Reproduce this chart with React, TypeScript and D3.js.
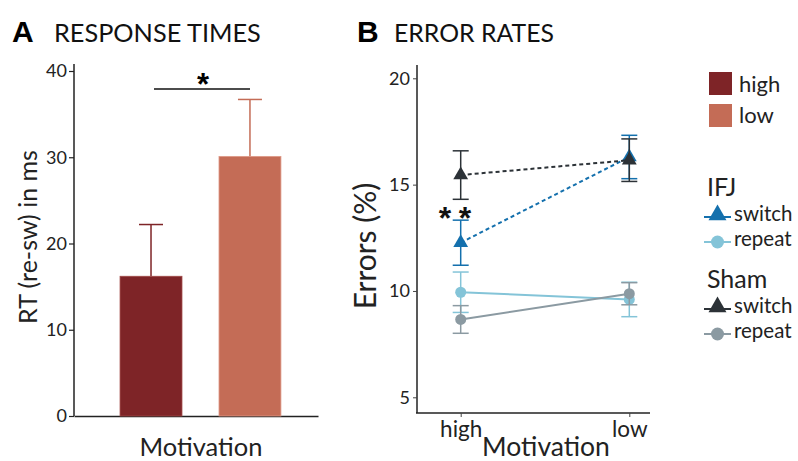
import React, { useEffect, useRef } from 'react';
import * as d3 from 'd3';

// Panel A: response times
const rtCategories = ['high', 'low'];
const rtMeans = [16.2, 30.1];
const rtErrors = [6.0, 6.6];
const rtTicks = [0, 10, 20, 30, 40];

// Panel B: error rates
const motivation = ['high', 'low'];
const ifjSwitch = [12.27, 16.3];
const ifjSwitchErr = [1.06, 1.02];
const ifjRepeat = [9.94, 9.6];
const ifjRepeatErr = [0.95, 0.81];
const shamSwitch = [15.45, 16.15];
const shamSwitchErr = [1.14, 1.0];
const shamRepeat = [8.66, 9.87];
const shamRepeatErr = [0.65, 0.52];
const errTicks = [5, 10, 15, 20];

const barColors = ['#7e2427', '#c46c56'];
const FONT = 'Lato, "Open Sans", sans-serif';

interface Series {
  group: string;
  cond: string;
  values: number[];
  errs: number[];
  color: string;
  dashed: boolean;
  shape: 'triangle' | 'circle';
}

const series: Series[] = [
  { group: 'IFJ', cond: 'repeat', values: ifjRepeat, errs: ifjRepeatErr, color: '#84c4d8', dashed: false, shape: 'circle' },
  { group: 'IFJ', cond: 'switch', values: ifjSwitch, errs: ifjSwitchErr, color: '#1470ad', dashed: true, shape: 'triangle' },
  { group: 'Sham', cond: 'repeat', values: shamRepeat, errs: shamRepeatErr, color: '#8b9aa2', dashed: false, shape: 'circle' },
  { group: 'Sham', cond: 'switch', values: shamSwitch, errs: shamSwitchErr, color: '#2c3237', dashed: true, shape: 'triangle' },
];

const App: React.FC = () => {
  const svgRef = useRef<SVGSVGElement>(null);

  useEffect(() => {
    if (!svgRef.current) return;
    const svg = d3.select(svgRef.current);
    svg.selectAll('*').remove();

    // ---------- Panel A ----------
    const a = svg.append('g');
    a.append('text').attr('x', 12).attr('y', 42).attr('font-family', 'Arial, sans-serif')
      .attr('font-weight', 'bold').attr('font-size', 30).text('A');
    a.append('text').attr('x', 54).attr('y', 42).attr('font-family', FONT)
      .attr('font-size', 25.3).attr('fill', '#111').text('RESPONSE TIMES');

    const yA = d3.scaleLinear().domain([0, 40]).range([416, 71]);
    const xA = d3.scaleBand().domain(rtCategories).range([74, 318])
      .paddingInner(0.374).paddingOuter(0.42).align(0.554);

    const xAxisA = a.append('g').attr('transform', 'translate(0,416)')
      .call(d3.axisBottom(xA).tickSize(0).tickFormat(() => ''));
    xAxisA.select('.domain').attr('stroke', '#222').attr('stroke-width', 1.5);

    const yAxisA = a.append('g').attr('transform', 'translate(74,0)')
      .call(d3.axisLeft(yA).tickValues(rtTicks).tickSize(5).tickSizeOuter(0).tickPadding(2));
    yAxisA.select('.domain').attr('stroke', '#222').attr('stroke-width', 1.5).attr('d', `M0,${yA(0)}V64`);
    yAxisA.selectAll('.tick line').attr('stroke', '#222').attr('stroke-width', 1.2);
    yAxisA.selectAll('.tick text').attr('font-family', FONT).attr('font-size', 18).attr('fill', '#222');

    rtCategories.forEach((c, i) => {
      const x0 = xA(c)!;
      const bw = xA.bandwidth();
      const cx = x0 + bw / 2;
      const top = yA(rtMeans[i] + rtErrors[i]);
      a.append('line').attr('x1', cx).attr('x2', cx)
        .attr('y1', yA(rtMeans[i])).attr('y2', top)
        .attr('stroke', barColors[i]).attr('stroke-width', 1.5);
      a.append('line').attr('x1', cx - 12).attr('x2', cx + 12)
        .attr('y1', top).attr('y2', top)
        .attr('stroke', barColors[i]).attr('stroke-width', 1.5);
      a.append('rect').attr('x', x0).attr('width', bw)
        .attr('y', yA(rtMeans[i])).attr('height', yA(0) - yA(rtMeans[i]))
        .attr('fill', barColors[i]).attr('stroke', i === 0 ? '#a24a48' : '#e09a88').attr('stroke-width', 0.8);
    });

    // significance
    a.append('line').attr('x1', 154).attr('x2', 250).attr('y1', 89).attr('y2', 89)
      .attr('stroke', '#111').attr('stroke-width', 1.5);
    a.append('text').attr('x', 203).attr('y', 95).attr('text-anchor', 'middle')
      .attr('font-family', 'Arial, sans-serif').attr('font-weight', 'bold').attr('font-size', 31).text('*');

    a.append('text').attr('transform', 'translate(37,237) rotate(-90)').attr('text-anchor', 'middle')
      .attr('font-family', FONT).attr('font-size', 25).attr('fill', '#222').text('RT (re-sw) in ms');
    a.append('text').attr('x', 201).attr('y', 456).attr('text-anchor', 'middle')
      .attr('font-family', FONT).attr('font-size', 25.5).attr('fill', '#222').text('Motivation');

    // ---------- Panel B ----------
    const b = svg.append('g');
    b.append('text').attr('x', 357).attr('y', 42).attr('font-family', 'Arial, sans-serif')
      .attr('font-weight', 'bold').attr('font-size', 30).text('B');
    b.append('text').attr('x', 394).attr('y', 42).attr('font-family', FONT)
      .attr('font-size', 24.8).attr('fill', '#111').text('ERROR RATES');

    const yB = d3.scaleLinear().domain([5, 20]).range([397.3, 78.3]);
    const xB = d3.scalePoint().domain(motivation).range([460.7, 629.3]);

    const xAxisB = b.append('g').attr('transform', 'translate(0,413)')
      .call(d3.axisBottom(xB).tickSize(4).tickSizeOuter(0).tickPadding(4));
    xAxisB.select('.domain').attr('stroke', '#222').attr('stroke-width', 1.5).attr('d', 'M416,0H650');
    xAxisB.selectAll('.tick line').attr('stroke', '#444');
    xAxisB.selectAll('.tick text').attr('font-family', FONT).attr('font-size', 22.5).attr('fill', '#222')
      .attr('dy', '0.72em');

    const yAxisB = b.append('g').attr('transform', 'translate(417,0)')
      .call(d3.axisLeft(yB).tickValues(errTicks).tickSize(4).tickSizeOuter(0).tickPadding(3));
    yAxisB.select('.domain').attr('stroke', '#222').attr('stroke-width', 1.5).attr('d', 'M0,413V65');
    yAxisB.selectAll('.tick line').attr('stroke', '#444');
    yAxisB.selectAll('.tick text').attr('font-family', FONT).attr('font-size', 18).attr('fill', '#222');

    const line = d3.line<number>().x((_, i) => xB(motivation[i])!).y(d => yB(d));
    const tri = d3.symbol().type(d3.symbolTriangle).size(95);
    const triLegend = d3.symbol().type(d3.symbolTriangle).size(140);

    series.forEach(s => {
      s.values.forEach((v, i) => {
        const cx = xB(motivation[i])!;
        const hi = yB(v + s.errs[i]);
        const lo = yB(v - s.errs[i]);
        const eg = b.append('g').attr('stroke', s.color).attr('stroke-width', 1.5);
        eg.append('line').attr('x1', cx).attr('x2', cx).attr('y1', hi).attr('y2', lo);
        eg.append('line').attr('x1', cx - 8).attr('x2', cx + 8).attr('y1', hi).attr('y2', hi);
        eg.append('line').attr('x1', cx - 8).attr('x2', cx + 8).attr('y1', lo).attr('y2', lo);
      });
      b.append('path').attr('d', line(s.values)).attr('fill', 'none').attr('stroke', s.color)
        .attr('stroke-width', 2).attr('stroke-dasharray', s.dashed ? '4,3' : null);
      s.values.forEach((v, i) => {
        const cx = xB(motivation[i])!;
        if (s.shape === 'circle') {
          b.append('circle').attr('cx', cx).attr('cy', yB(v)).attr('r', 5.5).attr('fill', s.color);
        } else {
          b.append('path').attr('d', tri()).attr('transform', `translate(${cx},${yB(v)})`).attr('fill', s.color);
        }
      });
    });

    [445, 465].forEach(x => {
      b.append('text').attr('x', x).attr('y', 229).attr('text-anchor', 'middle')
        .attr('font-family', 'Arial, sans-serif').attr('font-weight', 'bold').attr('font-size', 32)
        .attr('fill', '#111').text('*');
    });

    b.append('text').attr('transform', 'translate(376,246) rotate(-90)').attr('text-anchor', 'middle')
      .attr('font-family', FONT).attr('font-size', 30).attr('fill', '#222').text('Errors (%)');
    b.append('text').attr('x', 546).attr('y', 456).attr('text-anchor', 'middle')
      .attr('font-family', FONT).attr('font-size', 26.5).attr('fill', '#222').text('Motivation');

    // ---------- Legend ----------
    const lg = svg.append('g');
    rtCategories.forEach((c, i) => {
      lg.append('rect').attr('x', 709).attr('y', 72 + i * 32).attr('width', 23).attr('height', 23)
        .attr('fill', barColors[i]);
      lg.append('text').attr('x', 739).attr('y', 92 + i * 31).attr('font-family', FONT)
        .attr('font-size', 22).attr('fill', '#222').text(c);
    });

    const groups = ['IFJ', 'Sham'];
    const groupY = [196, 288];
    groups.forEach((g, gi) => {
      lg.append('text').attr('x', 707).attr('y', groupY[gi]).attr('font-family', FONT)
        .attr('font-size', 25).attr('fill', '#222').text(g);
      ['switch', 'repeat'].forEach((cond, ci) => {
        const s = series.find(d => d.group === g && d.cond === cond)!;
        const cy = groupY[gi] + 21 + ci * 25;
        lg.append('line').attr('x1', 704).attr('x2', 731).attr('y1', cy).attr('y2', cy)
          .attr('stroke', s.color).attr('stroke-width', 2);
        if (s.shape === 'circle') {
          lg.append('circle').attr('cx', 717.5).attr('cy', cy).attr('r', 6.5).attr('fill', s.color);
        } else {
          lg.append('path').attr('d', triLegend()).attr('transform', `translate(717.5,${cy - 2})`).attr('fill', s.color);
        }
        lg.append('text').attr('x', 734).attr('y', cy + 4).attr('font-family', FONT)
          .attr('font-size', 20.5).attr('fill', '#222').text(cond);
      });
    });
  }, []);

  return (
    <svg ref={svgRef} width={798} height={461}
      style={{ position: 'absolute', left: 0, top: 0, background: '#fff' }} />
  );
};

export default App;
